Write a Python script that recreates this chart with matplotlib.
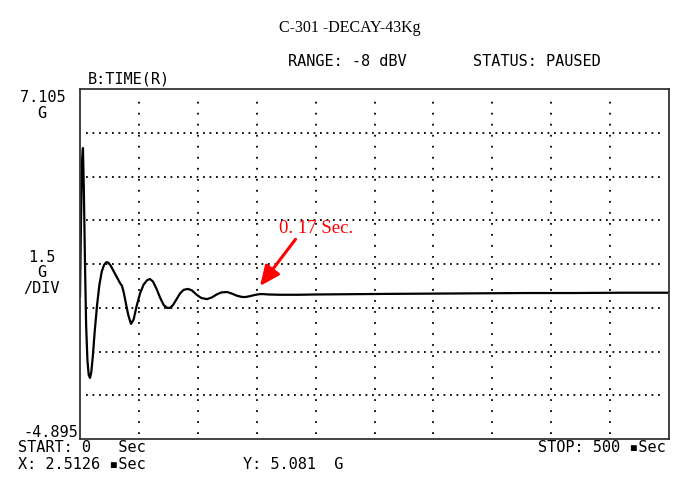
import matplotlib
matplotlib.use("Agg")
import matplotlib.pyplot as plt

# Decay trace (time in ms, acceleration in G)
time_ms = [0, 0.8, 1.6, 2.5, 3.3, 4.2, 5.2, 6.3, 7.4, 8.5, 9.6, 10.8,
           12.5, 14.5, 16.5, 18.5, 20.5, 22.5, 24.0, 26.0, 28.0, 30.0,
           32.0, 34.0, 35.7, 37.0, 39.0, 41.0, 43.3, 45.5, 48.0, 51.0,
           54.0, 57.0, 59.4, 62.0, 65.0, 68.0, 71.0, 74.0, 76.4, 79.0,
           82.0, 85.0, 88.0, 91.7, 95.0, 99.0, 103.0, 107.8, 112.0,
           116.0, 120.0, 124.8, 129.0, 133.0, 137.0, 140.0, 144.0,
           148.0, 152.0, 155.0, 160.0, 170.0, 185.0, 200.0, 230.0,
           260.0, 300.0, 340.0, 380.0, 420.0, 460.0, 500.0]
accel_g = [0.0, 2.4, 4.6, 5.08, 3.6, 1.2, -1.0, -2.2, -2.7, -2.8, -2.6,
           -2.1, -1.2, -0.3, 0.4, 0.85, 1.08, 1.17, 1.15, 1.05, 0.9,
           0.75, 0.6, 0.45, 0.35, 0.15, -0.25, -0.65, -0.95, -0.8, -0.35,
           0.1, 0.4, 0.55, 0.59, 0.5, 0.25, -0.05, -0.3, -0.4, -0.4,
           -0.3, -0.1, 0.1, 0.22, 0.25, 0.2, 0.05, -0.06, -0.1, -0.04,
           0.06, 0.13, 0.145, 0.09, 0.02, -0.02, -0.03, 0.0, 0.04, 0.07,
           0.075, 0.06, 0.05, 0.05, 0.06, 0.07, 0.08, 0.09, 0.1, 0.11,
           0.11, 0.12, 0.12]

y_top = 7.105
y_bottom = -4.895
y_div = 1.5
x_stop = 500
x_div = 50

fig = plt.figure(figsize=(7.0, 5.02), dpi=100)
ax = fig.add_axes([80 / 700, 1 - 440 / 502, 589 / 700, 350 / 502])
ax.set_xlim(0, x_stop)
ax.set_ylim(y_bottom, y_top)
ax.set_xticks([])
ax.set_yticks([])
for s in ax.spines.values():
    s.set_linewidth(1.3)
    s.set_color("#333333")

# dotted graticule
for k in range(1, 8):
    ax.axhline(y_top - k * y_div, color="black", lw=1.3,
               linestyle=(0, (1, 2.6)), xmin=0.01, xmax=0.99)
for k in range(1, 10):
    ax.axvline(k * x_div, color="black", lw=1.3,
               linestyle=(0, (1, 5.1)), ymin=0.015, ymax=0.985)

ax.plot(time_ms, accel_g, color="black", lw=1.6)

ax.annotate("0. 17 Sec.", xy=(152.8, 0.35), xytext=(169, 2.34),
            color="red", fontsize=13.5, family="Liberation Serif",
            va="center", ha="left",
            arrowprops=dict(arrowstyle="-|>,head_length=0.9,head_width=0.4",
                            color="red", lw=2.2, shrinkA=0, shrinkB=0,
                            relpos=(0.25, 0)))

mono = "DejaVu Sans Mono"
fs = 11
fig.text(350 / 700, 1 - 28 / 502, "C-301 -DECAY-43Kg", ha="center",
         va="center", fontsize=11.5, family="Liberation Serif")
fig.text(288 / 700, 1 - 62 / 502, "RANGE: -8 dBV", va="center",
         fontsize=fs, family=mono)
fig.text(473 / 700, 1 - 62 / 502, "STATUS: PAUSED", va="center",
         fontsize=fs, family=mono)
fig.text(88 / 700, 1 - 79 / 502, "B:TIME(R)", va="center",
         fontsize=fs, family=mono)
fig.text(66 / 700, 1 - 98 / 502, "7.105", va="center", ha="right",
         fontsize=fs, family=mono)
fig.text(42 / 700, 1 - 113 / 502, "G", va="center", ha="center",
         fontsize=fs, family=mono)
fig.text(42 / 700, 1 - 258 / 502, "1.5", va="center", ha="center",
         fontsize=fs, family=mono)
fig.text(42 / 700, 1 - 273 / 502, "G", va="center", ha="center",
         fontsize=fs, family=mono)
fig.text(41 / 700, 1 - 288 / 502, "/DIV", va="center", ha="center",
         fontsize=fs, family=mono)
fig.text(78 / 700, 1 - 433 / 502, "-4.895", va="center", ha="right",
         fontsize=fs, family=mono)
fig.text(18 / 700, 1 - 448 / 502, "START: 0   Sec", va="center",
         fontsize=fs, family=mono)
fig.text(18 / 700, 1 - 465 / 502, "X: 2.5126 \u25aaSec", va="center",
         fontsize=fs, family=mono)
fig.text(243 / 700, 1 - 465 / 502, "Y: 5.081  G", va="center",
         fontsize=fs, family=mono)
fig.text(666 / 700, 1 - 448 / 502, "STOP: 500 \u25aaSec", va="center",
         ha="right", fontsize=fs, family=mono)

fig.savefig("out.png", dpi=100, facecolor="white")
